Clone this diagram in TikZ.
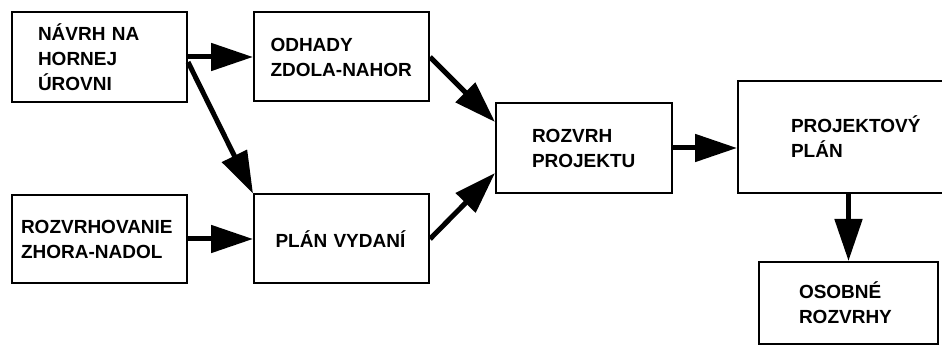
\documentclass[tikz,border=0pt]{standalone}
\usepackage{fontspec}
\setmainfont{Liberation Sans}
\usetikzlibrary{arrows.meta,positioning,calc}

\begin{document}
\begin{tikzpicture}[-{Triangle[length=42pt,width=27pt]}, line width=5pt, node distance=65pt]
  \tikzstyle{box}=[draw, line width=2pt, inner sep=0pt, align=left, minimum width=175pt, minimum height=89pt, font=\bfseries\fontsize{19pt}{25pt}\selectfont]

  \useasboundingbox (0,0) rectangle (942pt,-347pt);

  \node[box, text width=123pt, minimum height=90pt] (A) at (99.5pt,-57pt) {NÁVRH NA\\HORNEJ\\ÚROVNI};
  \node[box, text width=142pt] (B) [right=of A] {ODHADY\\ZDOLA-NAHOR};
  \node[box, text width=157pt, minimum height=88pt] (C) [below=91pt of A] {ROZVRHOVANIE\\ZHORA-NADOL};
  \node[box, text width=132pt] (D) [right=of C] {PLÁN VYDANÍ};
  \coordinate (BD) at ($(B.east)!0.5!(D.east)$);
  \node[box, text width=104pt, minimum width=176pt, minimum height=90pt] (E) [right=of BD] {ROZVRH\\PROJEKTU};
  \node[box, text width=109pt, minimum width=215pt, minimum height=112pt] (F) [right=64pt of E.south east, anchor=south west] {PROJEKTOVÝ\\PLÁN};
  \node[box, text width=99pt, minimum width=179pt, minimum height=82pt] (G) [below=67pt of F, xshift=3pt] {OSOBNÉ\\ROZVRHY};

  \path (A.east) edge (B.west)
        ([yshift=-5pt]A.east) edge (D.north west)
        (C.east) edge (D.west)
        (B.east) edge ([yshift=26pt]E.west)
        (D.east) edge ([yshift=-25pt]E.west)
        (E.east) edge (E.east -| F.west)
        (G.north |- F.south) edge (G.north);
\end{tikzpicture}
\end{document}
